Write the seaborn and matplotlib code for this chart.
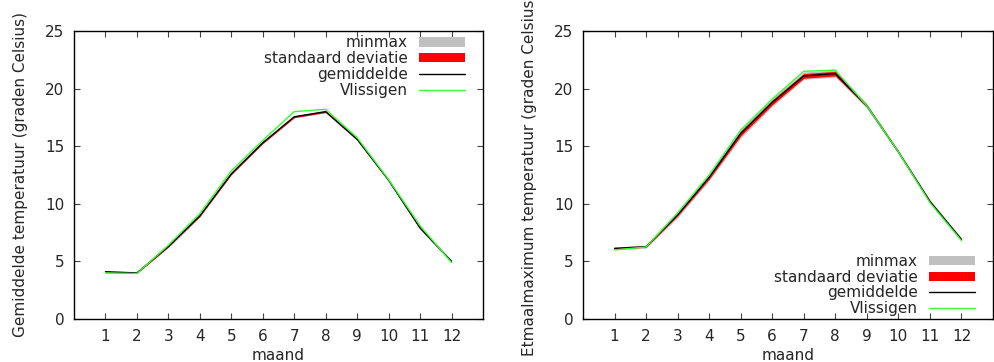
import numpy as np
import pandas as pd
import seaborn as sns
import matplotlib
matplotlib.use("Agg")
import matplotlib.pyplot as plt
from matplotlib.patches import Patch
from matplotlib.lines import Line2D

# maanden
maand = list(range(1, 13))

# gemiddelde temperatuur
gem_mean = [4.1, 4.0, 6.3, 8.95, 12.6, 15.3, 17.55, 18.0, 15.6, 12.05, 7.9, 5.0]
gem_sd = [0.05, 0.05, 0.05, 0.06, 0.07, 0.07, 0.07, 0.07, 0.06, 0.06, 0.06, 0.05]
gem_min = [4.0, 3.95, 6.2, 8.85, 12.5, 15.2, 17.45, 17.9, 15.5, 11.95, 7.8, 4.9]
gem_max = [4.2, 4.05, 6.4, 9.05, 12.7, 15.4, 17.65, 18.1, 15.7, 12.15, 8.0, 5.1]
gem_vlis = [4.0, 3.95, 6.4, 9.15, 12.85, 15.5, 18.0, 18.2, 15.75, 12.1, 8.1, 4.9]

# etmaalmaximum temperatuur
max_mean = [6.13, 6.28, 9.05, 12.3, 16.1, 18.8, 21.1, 21.3, 18.5, 14.5, 10.2, 6.9]
max_sd = [0.05, 0.05, 0.1, 0.15, 0.2, 0.2, 0.2, 0.2, 0.1, 0.08, 0.08, 0.06]
max_min = [6.0, 6.15, 8.8, 12.0, 15.7, 18.45, 20.8, 21.0, 18.3, 14.35, 10.05, 6.75]
max_max = [6.25, 6.4, 9.3, 12.6, 16.45, 19.15, 21.45, 21.6, 18.7, 14.65, 10.35, 7.05]
max_vlis = [6.0, 6.25, 9.2, 12.5, 16.4, 19.1, 21.5, 21.6, 18.5, 14.5, 10.1, 6.8]

sns.set_style("ticks")
plt.rcParams['font.family'] = ['DejaVu Sans']
plt.rcParams['font.size'] = 10

fig = plt.figure(figsize=(9.94, 3.62), dpi=100)
ax1 = fig.add_axes([0.0744, 0.1188, 0.4115, 0.7956])
ax2 = fig.add_axes([0.5865, 0.1188, 0.4125, 0.7956])

grey = "#c0c0c0"
red = "#ff0000"
green = "#33ff33"


def draw(ax, mean, sd, lo, hi, vlis, ylabel, legloc, anchor):
    df = pd.DataFrame({"maand": maand, "gem": mean, "vlis": vlis})
    m = np.array(mean)
    s = np.array(sd)
    ax.fill_between(maand, lo, hi, color=grey, lw=0)
    ax.fill_between(maand, m - s, m + s, color=red, lw=0)
    sns.lineplot(data=df, x="maand", y="gem", color="black", lw=1, ax=ax)
    sns.lineplot(data=df, x="maand", y="vlis", color=green, lw=1, ax=ax)
    ax.set_xlim(0, 13)
    ax.set_ylim(0, 25)
    ax.set_xticks(maand)
    ax.set_yticks([0, 5, 10, 15, 20, 25])
    ax.tick_params(direction="in", length=4, width=0.8, color="#444444",
                   top=True, right=True, labelsize=11, pad=7)
    for sp in ax.spines.values():
        sp.set_linewidth(1)
        sp.set_color("black")
    ax.set_xlabel("maand", fontsize=11, labelpad=3)
    ax.set_ylabel(ylabel, fontsize=11, labelpad=12)
    handles = [Patch(color=grey, lw=0), Patch(color=red, lw=0),
               Line2D([], [], color="black", lw=1), Line2D([], [], color=green, lw=1)]
    labels = ["minmax", "standaard deviatie", "gemiddelde", "Vlissigen"]
    ax.legend(handles, labels, loc=legloc, bbox_to_anchor=anchor, frameon=False,
              markerfirst=False, fontsize=11, handlelength=3.0, handleheight=0.55,
              labelspacing=0.05, handletextpad=0.7, borderpad=0, borderaxespad=0)


draw(ax1, gem_mean, gem_sd, gem_min, gem_max, gem_vlis,
     "Gemiddelde temperatuur (graden Celsius)", "upper right", (0.955, 0.985))
draw(ax2, max_mean, max_sd, max_min, max_max, max_vlis,
     "Etmaalmaximum temperatuur (graden Celsius)", "lower right", (0.955, 0.01))

fig.savefig("out.png", dpi=100)
